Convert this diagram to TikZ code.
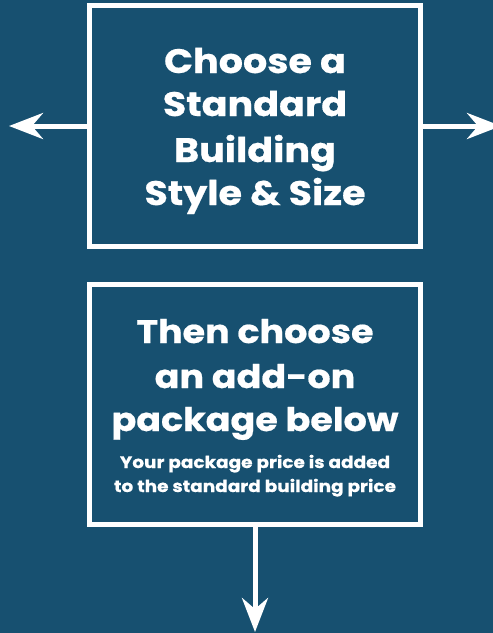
\documentclass[tikz,border=0pt]{standalone}
\usepackage{fontspec}
\usetikzlibrary{arrows.meta}
\newfontfamily\popfont{Poppins}[FakeStretch=1.12, FakeBold=0.6]
\definecolor{bgblue}{RGB}{23,80,112}
\tikzset{
  box/.style={draw=white, line width=5pt, minimum width=331pt, inner sep=0pt},
  bigtxt/.style={text=white, font=\popfont\bfseries\fontsize{34}{40}\selectfont, anchor=base, inner sep=0pt},
  midtxt/.style={text=white, font=\popfont\bfseries\fontsize{32.6}{40}\selectfont, anchor=base, inner sep=0pt},
  smalltxt/.style={text=white, font=\popfont\bfseries\fontsize{16.5}{20}\selectfont, anchor=base, inner sep=0pt},
  arr/.style={draw=white, line width=5pt, -{Stealth[length=34pt, width=26pt, inset=11pt]}}
}
\begin{document}
\begin{tikzpicture}[x=1pt, y=-1pt]
\useasboundingbox (0,0) rectangle (493,633);
\clip (0,0) rectangle (493,633);
\fill[bgblue] (0,0) rectangle (493,633);
\node[box, minimum height=241pt] (b1) at (255,126) {};
\node[box, minimum height=240.5pt] (b2) at (255,404.25) {};
\coordinate (lt) at (9,126);
\coordinate (rt) at (501,126);
\coordinate (dt) at (255,632);
\draw[arr] (b1.west) -- (lt);
\draw[arr] (b1.east) -- (rt);
\draw[arr] (b2.south) -- (dt);
\node[bigtxt] (l1) at (255,73) {Choose a};
\node[bigtxt] (l2) at (255,116) {Standard};
\node[bigtxt] (l3) at (255,162) {Building};
\node[bigtxt] (l4) at (255,205) {Style \& Size};
\node[midtxt] (m1) at (255,343) {Then choose};
\node[midtxt] (m2) at (255,388) {an add-on};
\node[midtxt] (m3) at (255,431) {package below};
\node[smalltxt] (s1) at (255,468) {Your package price is added};
\node[smalltxt] (s2) at (255,492) {to the standard building price};
\end{tikzpicture}
\end{document}
